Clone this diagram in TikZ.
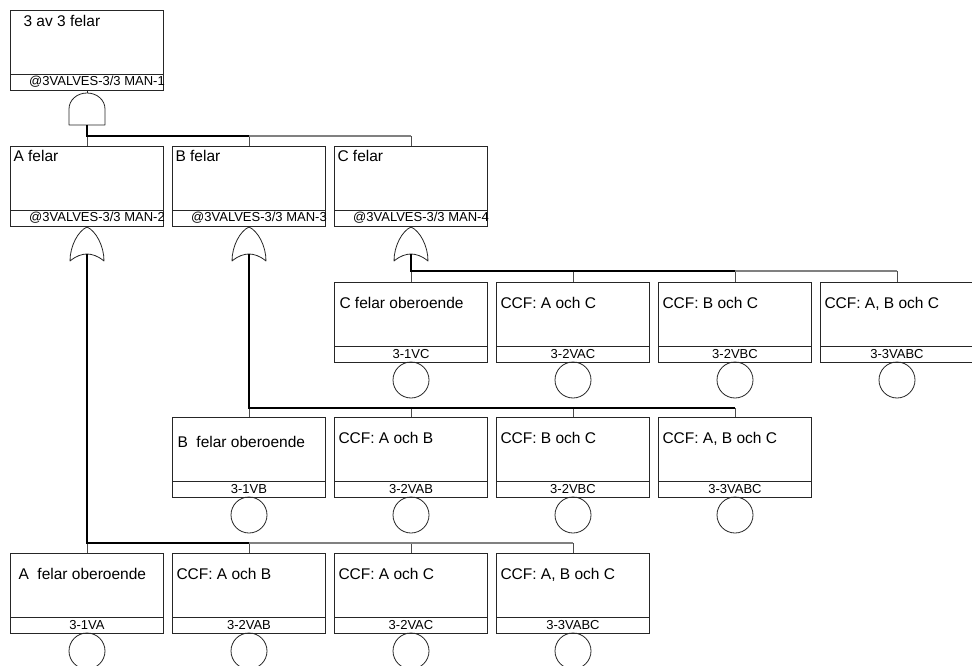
\documentclass[tikz,border=0pt]{standalone}
\usepackage{fontspec}
\setmainfont{Liberation Sans}
\usetikzlibrary{positioning}

\begin{document}
\begin{tikzpicture}[x=1pt, y=-1pt,
  evbox/.style={draw=black!85, line width=0.8pt, minimum width=153pt, minimum height=64pt, inner sep=0pt, outer sep=0pt},
  barbox/.style={draw=black!85, line width=0.8pt, minimum width=153pt, minimum height=16pt, inner sep=0pt, outer sep=0pt, font=\fontsize{13}{13}\selectfont},
  bartxt/.style={inner sep=0pt, font=\fontsize{13}{13}\selectfont, xshift=10pt},
  ttl/.style={inner sep=0pt, outer sep=0pt, anchor=north west, xshift=4pt, yshift=-15pt, font=\fontsize{15.5}{18}\selectfont},
  gttl/.style={ttl, xshift=-1pt, yshift=11pt},
  basic/.style={circle, draw=black!85, line width=0.8pt, minimum size=36pt, inner sep=0pt, outer sep=0pt},
  gateline/.style={draw=black!85, line width=0.8pt, line join=round},
  bus/.style={draw=black, line width=1.8pt},
  busgray/.style={draw=black!50, line width=1.3pt},
  drop/.style={draw=black!70, line width=0.8pt}
]
\useasboundingbox (0,0) rectangle (972,666);

\node[evbox, label={[ttl, xshift=9pt, yshift=10pt]north west:3 av 3 felar}] (t0) at (87,42) {};
\node[barbox, below=0pt of t0, label={[bartxt]center:@3VALVES-3/3 MAN-1}] (t0b) {};

\node[evbox, label={[gttl]north west:A felar}] (ga) at (87,178) {};
\node[barbox, below=0pt of ga, label={[bartxt]center:@3VALVES-3/3 MAN-2}] (gab) {};
\node[evbox, label={[gttl]north west:B felar}] (gb) at (249,178) {};
\node[barbox, below=0pt of gb, label={[bartxt]center:@3VALVES-3/3 MAN-3}] (gbb) {};
\node[evbox, label={[gttl]north west:C felar}] (gc) at (411,178) {};
\node[barbox, below=0pt of gc, label={[bartxt]center:@3VALVES-3/3 MAN-4}] (gcb) {};

\node[evbox, label={[ttl, xshift=1pt]north west:C felar oberoende}] (c1) at (411,314) {};
\node[barbox, below=0pt of c1] (c1b) {3-1VC};
\node[basic, below=0pt of c1b] (c1e) {};
\node[evbox, label={[ttl]north west:{CCF: A och C}}] (c2) at (573,314) {};
\node[barbox, below=0pt of c2] (c2b) {3-2VAC};
\node[basic, below=0pt of c2b] (c2e) {};
\node[evbox, label={[ttl]north west:{CCF: B och C}}] (c3) at (735,314) {};
\node[barbox, below=0pt of c3] (c3b) {3-2VBC};
\node[basic, below=0pt of c3b] (c3e) {};
\node[evbox, label={[ttl]north west:{CCF: A, B och C}}] (c4) at (897,314) {};
\node[barbox, below=0pt of c4] (c4b) {3-3VABC};
\node[basic, below=0pt of c4b] (c4e) {};

\node[evbox, label={[ttl, xshift=1pt, yshift=-4pt]north west:B\ \ felar oberoende}] (b1) at (249,449) {};
\node[barbox, below=0pt of b1] (b1b) {3-1VB};
\node[basic, below=0pt of b1b] (b1e) {};
\node[evbox, label={[ttl]north west:{CCF: A och B}}] (b2) at (411,449) {};
\node[barbox, below=0pt of b2] (b2b) {3-2VAB};
\node[basic, below=0pt of b2b] (b2e) {};
\node[evbox, label={[ttl]north west:{CCF: B och C}}] (b3) at (573,449) {};
\node[barbox, below=0pt of b3] (b3b) {3-2VBC};
\node[basic, below=0pt of b3b] (b3e) {};
\node[evbox, label={[ttl]north west:{CCF: A, B och C}}] (b4) at (735,449) {};
\node[barbox, below=0pt of b4] (b4b) {3-3VABC};
\node[basic, below=0pt of b4b] (b4e) {};

\node[evbox, label={[ttl, xshift=4pt]north west:A\ \ felar oberoende}] (a1) at (87,585) {};
\node[barbox, below=0pt of a1] (a1b) {3-1VA};
\node[basic, below=0pt of a1b] (a1e) {};
\node[evbox, label={[ttl]north west:{CCF: A och B}}] (a2) at (249,585) {};
\node[barbox, below=0pt of a2] (a2b) {3-2VAB};
\node[basic, below=0pt of a2b] (a2e) {};
\node[evbox, label={[ttl]north west:{CCF: A och C}}] (a3) at (411,585) {};
\node[barbox, below=0pt of a3] (a3b) {3-2VAC};
\node[basic, below=0pt of a3b] (a3e) {};
\node[evbox, label={[ttl]north west:{CCF: A, B och C}}] (a4) at (573,585) {};
\node[barbox, below=0pt of a4] (a4b) {3-3VABC};
\node[basic, below=0pt of a4b] (a4e) {};

\coordinate (andtop) at (87,93);
\coordinate (andbot) at (87,125);
\coordinate (orAtop) at (87,227);
\coordinate (orAbot) at (87,254);
\coordinate (orBtop) at (249,227);
\coordinate (orBbot) at (249,254);
\coordinate (orCtop) at (411,227);
\coordinate (orCbot) at (411,254);
\coordinate (tbus) at (0,136);
\coordinate (cbus) at (0,271);
\coordinate (bbus) at (0,408);
\coordinate (abus) at (0,543);

\draw[gateline] (69,125) -- (69,109) .. controls (69,100) and (77,93) .. (87,93) .. controls (97,93) and (105,100) .. (105,109) -- (105,125) -- cycle;
\draw[gateline] (70,261) .. controls (70,246) and (78,231) .. (87,227) .. controls (96,231) and (104,246) .. (104,261) .. controls (98,256) and (92,254) .. (87,254) .. controls (82,254) and (76,256) .. (70,261) -- cycle;
\draw[gateline] (232,261) .. controls (232,246) and (240,231) .. (249,227) .. controls (258,231) and (266,246) .. (266,261) .. controls (260,256) and (254,254) .. (249,254) .. controls (244,254) and (238,256) .. (232,261) -- cycle;
\draw[gateline] (394,261) .. controls (394,246) and (402,231) .. (411,227) .. controls (420,231) and (428,246) .. (428,261) .. controls (422,256) and (416,254) .. (411,254) .. controls (406,254) and (400,256) .. (394,261) -- cycle;

\draw[gateline] (t0b.south) -- (andtop);
\draw[gateline] (gab.south) -- (orAtop);
\draw[gateline] (gbb.south) -- (orBtop);
\draw[gateline] (gcb.south) -- (orCtop);

\draw[drop] (ga.north |- tbus) -- (ga.north);
\draw[drop] (gb.north |- tbus) -- (gb.north);
\draw[drop] (gc.north |- tbus) -- (gc.north);
\draw[bus] (andbot) -- (ga.north |- tbus) -- (gb.north |- tbus);
\draw[busgray] (gb.north |- tbus) -- (gc.north |- tbus);

\draw[drop] (c1.north |- cbus) -- (c1.north);
\draw[drop] (c2.north |- cbus) -- (c2.north);
\draw[drop] (c3.north |- cbus) -- (c3.north);
\draw[drop] (c4.north |- cbus) -- (c4.north);
\draw[bus] (orCbot) -- (c1.north |- cbus) -- (c3.north |- cbus);
\draw[busgray] (c3.north |- cbus) -- (c4.north |- cbus);

\draw[drop] (b1.north |- bbus) -- (b1.north);
\draw[drop] (b2.north |- bbus) -- (b2.north);
\draw[drop] (b3.north |- bbus) -- (b3.north);
\draw[drop] (b4.north |- bbus) -- (b4.north);
\draw[bus] (orBbot) -- (b1.north |- bbus) -- (b4.north |- bbus);

\draw[drop] (a1.north |- abus) -- (a1.north);
\draw[drop] (a2.north |- abus) -- (a2.north);
\draw[drop] (a3.north |- abus) -- (a3.north);
\draw[drop] (a4.north |- abus) -- (a4.north);
\draw[bus] (orAbot) -- (a1.north |- abus) -- (a2.north |- abus);
\draw[busgray] (a2.north |- abus) -- (a4.north |- abus);

\end{tikzpicture}
\end{document}
